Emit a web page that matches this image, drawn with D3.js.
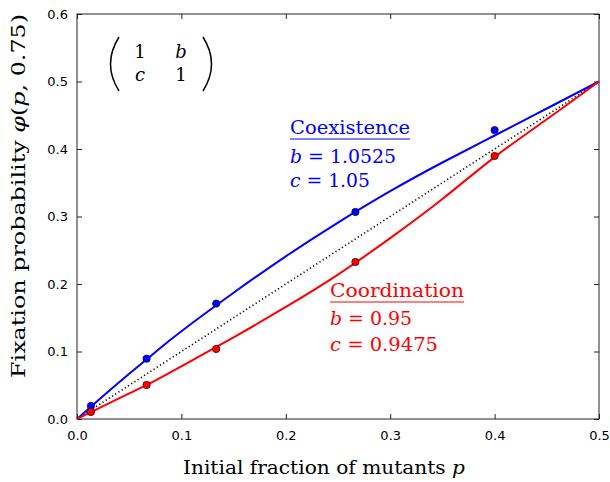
<!DOCTYPE html>
<html>
<head>
<meta charset="utf-8">
<script src="https://cdn.jsdelivr.net/npm/d3@7"></script>
<style>
  body { margin: 0; background: #fff; }
  svg { display: block; }
  .tick text { font-family: "DejaVu Sans", sans-serif; font-size: 13px; fill: #000; }
  .serif { font-family: "DejaVu Serif", serif; }
</style>
</head>
<body>
<div id="chart"></div>
<script>
// simulated fixation probabilities (markers)
const simP = [1 / 75, 5 / 75, 10 / 75, 20 / 75, 30 / 75];
const simCoexistence = [0.0193, 0.0894, 0.171, 0.3067, 0.428];
const simCoordination = [0.0104, 0.0504, 0.1037, 0.2326, 0.3896];

// analytic curves
const curveP = [0, 0.025, 0.05, 0.075, 0.1, 0.15, 0.2, 0.25, 0.3, 0.35, 0.4, 0.45, 0.5];
const curveCoexistence = [0, 0.034, 0.067, 0.099, 0.130, 0.187, 0.241, 0.291, 0.3375, 0.380, 0.420, 0.460, 0.5];
const curveCoordination = [0, 0.019, 0.038, 0.057, 0.078, 0.121, 0.166, 0.214, 0.268, 0.326, 0.388, 0.444, 0.5];

// neutral reference line
const neutralP = [0, 0.5];

const xTicks = [0, 0.1, 0.2, 0.3, 0.4, 0.5];
const yTicks = [0, 0.1, 0.2, 0.3, 0.4, 0.5, 0.6];

const width = 610, height = 482;
const margin = { top: 14, right: 11, bottom: 63, left: 77 };
const w = width - margin.left - margin.right;
const h = height - margin.top - margin.bottom;

const svg = d3.select("#chart")
  .append("svg")
  .attr("width", width)
  .attr("height", height);

const g = svg.append("g")
  .attr("transform", "translate(" + margin.left + "," + margin.top + ")");

const x = d3.scaleLinear().domain([0, 0.5]).range([0, w]);
const y = d3.scaleLinear().domain([0, 0.6]).range([h, 0]);

// axes with inward ticks on all four sides
const tickLen = 5;
g.append("g")
  .attr("transform", "translate(0," + h + ")")
  .call(d3.axisBottom(x).tickValues(xTicks).tickFormat(d3.format(".1f")).tickSizeInner(-tickLen).tickSizeOuter(0).tickPadding(12));
g.append("g")
  .call(d3.axisLeft(y).tickValues(yTicks).tickFormat(d3.format(".1f")).tickSizeInner(-tickLen).tickSizeOuter(0).tickPadding(9));
g.append("g")
  .call(d3.axisTop(x).tickValues(xTicks).tickFormat("").tickSizeInner(-tickLen).tickSizeOuter(0));
g.append("g")
  .attr("transform", "translate(" + w + ",0)")
  .call(d3.axisRight(y).tickValues(yTicks).tickFormat("").tickSizeInner(-tickLen).tickSizeOuter(0));
g.selectAll(".domain").remove();
g.selectAll(".tick line").attr("stroke", "#222");

g.append("rect")
  .attr("width", w)
  .attr("height", h)
  .attr("fill", "none")
  .attr("stroke", "#222")
  .attr("stroke-width", 1);

const line = d3.line()
  .x(d => x(d[0]))
  .y(d => y(d[1]))
  .curve(d3.curveNatural);

// neutral diagonal
g.append("path")
  .datum(neutralP.map(p => [p, p]))
  .attr("d", line)
  .attr("fill", "none")
  .attr("stroke", "#000")
  .attr("stroke-width", 1.6)
  .attr("stroke-dasharray", "1.2,2.6");

g.append("path")
  .datum(curveP.map((p, i) => [p, curveCoexistence[i]]))
  .attr("d", line)
  .attr("fill", "none")
  .attr("stroke", "#0000ff")
  .attr("stroke-width", 2);

g.append("path")
  .datum(curveP.map((p, i) => [p, curveCoordination[i]]))
  .attr("d", line)
  .attr("fill", "none")
  .attr("stroke", "#ff0000")
  .attr("stroke-width", 2);

g.append("g")
  .selectAll("circle")
  .data(simP.map((p, i) => [p, simCoexistence[i]]))
  .enter()
  .append("circle")
  .attr("cx", d => x(d[0]))
  .attr("cy", d => y(d[1]))
  .attr("r", 3.7)
  .attr("fill", "#0000ff")
  .attr("stroke", "#000")
  .attr("stroke-width", 0.6);

g.append("g")
  .selectAll("circle")
  .data(simP.map((p, i) => [p, simCoordination[i]]))
  .enter()
  .append("circle")
  .attr("cx", d => x(d[0]))
  .attr("cy", d => y(d[1]))
  .attr("r", 3.7)
  .attr("fill", "#ff0000")
  .attr("stroke", "#000")
  .attr("stroke-width", 0.6);

// axis labels
svg.append("text")
  .attr("class", "serif")
  .attr("x", 324)
  .attr("y", 474)
  .attr("text-anchor", "middle")
  .attr("font-size", 18)
  .attr("textLength", 282)
  .attr("lengthAdjust", "spacingAndGlyphs")
  .html('Initial fraction of mutants <tspan font-style="italic">p</tspan>');

svg.append("text")
  .attr("class", "serif")
  .attr("transform", "translate(25,196) rotate(-90)")
  .attr("text-anchor", "middle")
  .attr("font-size", 18)
  .attr("textLength", 364)
  .attr("lengthAdjust", "spacingAndGlyphs")
  .html('Fixation probability <tspan font-style="italic">φ</tspan>(<tspan font-style="italic">p</tspan>, 0.75)');

// payoff matrix
const matrix = svg.append("g").attr("class", "serif").attr("font-size", 18);
[["1", "b"], ["c", "1"]].forEach((row, r) => {
  row.forEach((cell, c) => {
    matrix.append("text")
      .attr("x", 140 + c * 41)
      .attr("y", 58 + r * 23)
      .attr("text-anchor", "middle")
      .attr("font-style", cell === "1" ? "normal" : "italic")
      .text(cell);
  });
});
matrix.append("path")
  .attr("d", "M119,37 Q102,64 119,91")
  .attr("fill", "none").attr("stroke", "#000").attr("stroke-width", 1.5);
matrix.append("path")
  .attr("d", "M203,37 Q220,64 203,91")
  .attr("fill", "none").attr("stroke", "#000").attr("stroke-width", 1.5);

// annotations
function annotate(x0, yTitle, title, titleLen, rows, color) {
  const a = svg.append("g").attr("class", "serif").attr("fill", color).attr("font-size", 19);
  a.append("text")
    .attr("x", x0)
    .attr("y", yTitle)
    .attr("textLength", titleLen)
    .attr("lengthAdjust", "spacingAndGlyphs")
    .text(title);
  a.append("line")
    .attr("x1", x0).attr("x2", x0 + titleLen)
    .attr("y1", yTitle + 5).attr("y2", yTitle + 5)
    .attr("stroke", color).attr("stroke-width", 1);
  rows.forEach(rw => {
    a.append("text")
      .attr("x", x0)
      .attr("y", rw.y)
      .attr("textLength", rw.len)
      .attr("lengthAdjust", "spacingAndGlyphs")
      .html('<tspan font-style="italic">' + rw.sym + '</tspan> = ' + rw.val);
  });
}

annotate(290, 134, "Coexistence", 120, [
  { sym: "b", val: "1.0525", y: 163, len: 106 },
  { sym: "c", val: "1.05", y: 187, len: 80 }
], "#0000ff");

annotate(330, 297, "Coordination", 134, [
  { sym: "b", val: "0.95", y: 325, len: 82 },
  { sym: "c", val: "0.9475", y: 351, len: 108 }
], "#ff0000");
</script>
</body>
</html>
